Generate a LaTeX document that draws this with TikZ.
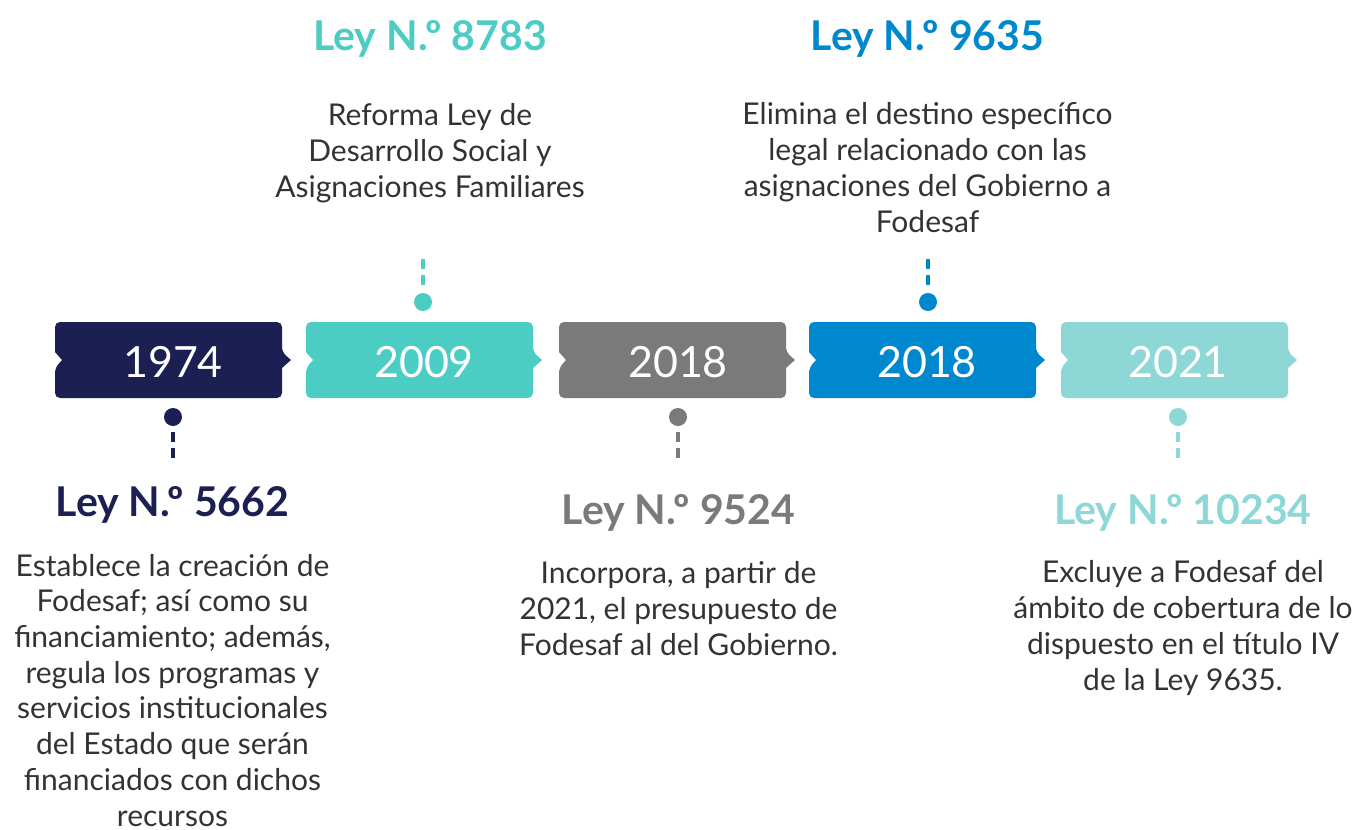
\documentclass[tikz,border=0pt]{standalone}
\usepackage{fontspec}
\setmainfont{Lato}
\definecolor{cnavy}{HTML}{1C1F52}
\definecolor{cteal}{HTML}{4BCDC3}
\definecolor{cgray}{HTML}{7A7A7A}
\definecolor{cblue}{HTML}{0088CF}
\definecolor{clight}{HTML}{8DD7D7}
\definecolor{bodytext}{HTML}{333333}
\newcommand\tlbox[2]{%
  \fill[#2,rounded corners=5pt] (#1,322) -- (#1+227,322) -- (#1+227,352) [sharp corners] -- (#1+236,360) -- (#1+227,368) [rounded corners=5pt] -- (#1+227,398) -- (#1,398) -- (#1,368) [sharp corners] -- (#1+7,360) -- (#1,352) [rounded corners=5pt] -- cycle;}
\newcommand\numo{N.\kern-2.5ptº}
\begin{document}
\begin{tikzpicture}[x=1pt,y=-1pt,
  yearlbl/.style={text=white,font=\fontsize{43}{50}\selectfont,inner sep=0pt,anchor=base},
  headlbl/.style={font=\bfseries\fontsize{41}{48}\selectfont,inner sep=0pt,anchor=base},
  bodylbl/.style={font=\fontsize{30}{35.7}\selectfont,text=bodytext,align=center,inner sep=0pt,anchor=base},
  dotmark/.style={circle,inner sep=0pt,minimum size=18pt},
  stem/.style={line width=4pt,dash pattern=on 10pt off 6pt}]
\useasboundingbox[fill=white] (0,0) rectangle (1358,830);
% boxes
\tlbox{55}{cnavy}
\tlbox{306}{cteal}
\tlbox{559}{cgray}
\tlbox{809}{cblue}
\tlbox{1061}{clight}
\node[yearlbl] (y1) at (173,377) {1974};
\node[yearlbl] (y2) at (424,377) {2009};
\node[yearlbl] (y3) at (678,377) {2018};
\node[yearlbl] (y4) at (927,377) {2018};
\node[yearlbl] (y5) at (1178,377) {2021};
% dots and stems
\node[dotmark,fill=cnavy] (d1) at (173,417) {};
\node[dotmark,fill=cteal] (d2) at (423,302) {};
\node[dotmark,fill=cgray] (d3) at (678,417) {};
\node[dotmark,fill=cblue] (d4) at (928,302) {};
\node[dotmark,fill=clight] (d5) at (1178,417) {};
\coordinate (e1) at (173,458);
\coordinate (e2) at (423,259);
\coordinate (e3) at (678,458);
\coordinate (e4) at (928,259);
\coordinate (e5) at (1178,458);
\draw[stem,cnavy] ([yshift=-6pt]d1.south) -- (e1);
\draw[stem,cteal] ([yshift=8pt]d2.north) -- (e2);
\draw[stem,cgray] ([yshift=-6pt]d3.south) -- (e3);
\draw[stem,cblue] ([yshift=8pt]d4.north) -- (e4);
\draw[stem,clight] ([yshift=-6pt]d5.south) -- (e5);
% headings
\node[headlbl,text=cnavy] (h1) at (172.5,516) {Ley \numo\ 5662};
\node[headlbl,text=cteal] (h2) at (430,50) {Ley \numo\ 8783};
\node[headlbl,text=cgray] (h3) at (678.5,524) {Ley \numo\ 9524};
\node[headlbl,text=cblue] (h4) at (927.5,50) {Ley \numo\ 9635};
\node[headlbl,text=clight] (h5) at (1183,524) {Ley \numo\ 10234};
% bodies (anchor base = baseline of last line)
\node[bodylbl] (b1) at (172.5,826) {Establece la creación de\\Fodesaf; así como su\\financiamiento; además,\\regula los programas y\\servicios institucionales\\del Estado que serán\\financiados con dichos\\recursos};
\node[bodylbl] (b2) at (430,197) {Reforma Ley de\\Desarrollo Social y\\Asignaciones Familiares};
\node[bodylbl] (b3) at (678.5,655) {Incorpora, a partir de\\2021, el presupuesto de\\Fodesaf al del Gobierno.};
\node[bodylbl] (b4) at (927.5,232) {Elimina el destino específico\\legal relacionado con las\\asignaciones del Gobierno a\\Fodesaf};
\node[bodylbl] (b5) at (1183,690) {Excluye a Fodesaf del\\ámbito de cobertura de lo\\dispuesto en el título IV\\de la Ley 9635.};
\end{tikzpicture}
\end{document}
